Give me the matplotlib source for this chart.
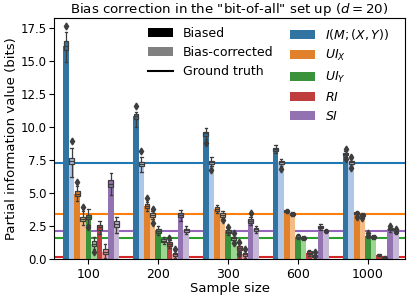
import matplotlib
matplotlib.use("Agg")
import matplotlib.pyplot as plt
from matplotlib.patches import Patch
from matplotlib.lines import Line2D
import numpy as np

sample_sizes = ["100", "200", "300", "600", "1000"]
labels = [r"$I(M;(X,Y))$", r"$UI_X$", r"$UI_Y$", r"$RI$", r"$SI$"]
keys = ["I", "UIX", "UIY", "RI", "SI"]

# ground truth values (bits)
truth = [7.23, 3.42, 1.58, 0.13, 2.13]

# per sample size: [whisker low, q1, median, q3, whisker high]
I_bias = [[14.9, 15.8, 16.1, 16.5, 17.2], [10.0, 10.6, 10.8, 11.0, 11.1],
          [9.1, 9.3, 9.5, 9.6, 9.9], [8.0, 8.2, 8.3, 8.4, 8.6],
          [7.7, 7.85, 7.95, 8.05, 8.15]]
I_corr = [[6.2, 7.15, 7.4, 7.65, 8.4], [6.6, 7.05, 7.2, 7.35, 7.7],
          [7.0, 7.15, 7.3, 7.45, 7.7], [7.0, 7.2, 7.3, 7.4, 7.6],
          [7.05, 7.2, 7.3, 7.4, 7.55]]
UIX_bias = [[4.4, 4.75, 4.95, 5.15, 5.5], [3.6, 3.85, 4.0, 4.15, 4.3],
            [3.5, 3.65, 3.76, 3.9, 4.05], [3.45, 3.55, 3.63, 3.7, 3.8],
            [3.3, 3.38, 3.45, 3.52, 3.6]]
UIX_corr = [[2.6, 2.85, 3.0, 3.2, 3.6], [3.0, 3.15, 3.3, 3.45, 3.6],
            [3.05, 3.2, 3.33, 3.45, 3.6], [3.28, 3.36, 3.43, 3.5, 3.58],
            [3.15, 3.24, 3.3, 3.38, 3.45]]
UIY_bias = [[2.6, 3.0, 3.2, 3.35, 3.75], [1.8, 1.95, 2.1, 2.25, 2.5],
            [1.8, 1.95, 2.05, 2.2, 2.35], [1.5, 1.62, 1.7, 1.8, 1.9],
            [1.55, 1.66, 1.74, 1.82, 1.9]]
UIY_corr = [[0.75, 1.0, 1.16, 1.35, 1.7], [1.1, 1.25, 1.36, 1.5, 1.65],
            [1.3, 1.45, 1.6, 1.7, 1.85], [1.4, 1.5, 1.57, 1.65, 1.75],
            [1.5, 1.6, 1.67, 1.75, 1.85]]
RI_bias = [[1.9, 2.2, 2.4, 2.6, 2.9], [0.8, 0.95, 1.1, 1.25, 1.4],
           [0.5, 0.7, 0.85, 1.0, 1.2], [0.25, 0.38, 0.48, 0.58, 0.7],
           [0.2, 0.25, 0.3, 0.35, 0.4]]
RI_corr = [[0.1, 0.4, 0.55, 0.75, 1.1], [0.05, 0.2, 0.35, 0.45, 0.6],
           [0.05, 0.2, 0.35, 0.45, 0.6], [0.05, 0.15, 0.23, 0.3, 0.4],
           [0.03, 0.08, 0.12, 0.16, 0.2]]
SI_bias = [[4.85, 5.45, 5.7, 5.95, 6.5], [2.9, 3.15, 3.3, 3.45, 3.7],
           [2.55, 2.75, 2.9, 3.05, 3.2], [2.2, 2.33, 2.42, 2.5, 2.65],
           [2.05, 2.17, 2.25, 2.32, 2.4]]
SI_corr = [[2.0, 2.45, 2.65, 2.85, 3.2], [1.9, 2.05, 2.17, 2.3, 2.5],
           [2.0, 2.15, 2.25, 2.35, 2.5], [1.95, 2.05, 2.12, 2.2, 2.3],
           [1.9, 2.0, 2.07, 2.15, 2.25]]

# outliers per sample size
I_bias_fl = [[17.6], [11.6], [8.8], [], [8.3, 7.6]]
I_corr_fl = [[8.9], [8.2], [6.7], [6.8], [7.7, 6.9]]
UIX_bias_fl = [[5.8], [4.65], [], [], [3.2]]
UIX_corr_fl = [[3.9], [3.75, 2.75], [2.95], [], [3.1]]
UIY_bias_fl = [[2.4], [], [2.45], [], [2.0]]
UIY_corr_fl = [[0.5], [], [1.2, 1.95], [], []]
RI_bias_fl = [[], [1.6], [1.3, 0.4], [], []]
RI_corr_fl = [[], [0.75], [0.75], [0.55], []]
SI_bias_fl = [[], [], [3.5], [], [2.5]]
SI_corr_fl = [[], [], [], [], [2.3]]

dark = ["#3274a1", "#e1812c", "#3a923a", "#c03d3e", "#9372b2"]
light = ["#aec7e8", "#f5bb85", "#9bd58f", "#f09c9c", "#c6b7d6"]
lines = ["#1f77b4", "#ff7f0e", "#2ca02c", "#d62728", "#9467bd"]

series = [(I_bias, I_bias_fl, I_corr, I_corr_fl),
          (UIX_bias, UIX_bias_fl, UIX_corr, UIX_corr_fl),
          (UIY_bias, UIY_bias_fl, UIY_corr, UIY_corr_fl),
          (RI_bias, RI_bias_fl, RI_corr, RI_corr_fl),
          (SI_bias, SI_bias_fl, SI_corr, SI_corr_fl)]

fig = plt.figure(figsize=(4.07, 2.97), dpi=100)
ax = fig.add_axes([0.133, 0.128, 0.862, 0.81])

bw = 0.08
x = np.arange(len(sample_sizes))
gray = "#3d3d3d"

for k, (b, bfl, c, cfl) in enumerate(series):
    ax.axhline(truth[k], color=lines[k], lw=1.5, zorder=1)
    for j, (data, fl, col) in enumerate([(b, bfl, dark[k]), (c, cfl, light[k])]):
        pos = x - 0.36 + bw * (2 * k + j)
        meds = [d[2] for d in data]
        ax.bar(pos, meds, width=bw, color=col, zorder=2, align="edge")
        stats = []
        for d, f in zip(data, fl):
            stats.append(dict(whislo=d[0], q1=d[1], med=d[2], q3=d[3],
                              whishi=d[4], fliers=f))
        ax.bxp(stats, positions=pos + bw / 2, widths=bw * 0.85,
               patch_artist=True, manage_ticks=False, zorder=3,
               boxprops=dict(facecolor=col, edgecolor=gray, lw=0.9),
               medianprops=dict(color=gray, lw=0.9),
               whiskerprops=dict(color=gray, lw=0.9),
               capprops=dict(color=gray, lw=0.9),
               flierprops=dict(marker="d", markersize=3.5, markerfacecolor=gray,
                               markeredgecolor=gray))

ax.set_xticks(x)
ax.set_xticklabels(sample_sizes, fontsize=9)
ax.set_xlim(-0.49, 4.53)
ax.set_ylim(0, 18.2)
ax.set_yticks(np.arange(0, 17.6, 2.5))
ax.tick_params(axis="y", labelsize=8.5, pad=2)
ax.tick_params(axis="x", pad=3)
ax.set_xlabel("Sample size", fontsize=9.5, labelpad=1)
ax.set_ylabel("Partial information value (bits)", fontsize=9.5, labelpad=2)
ax.set_title('Bias correction in the "bit-of-all" set up ($d=20$)', fontsize=9.6, pad=1)

h1 = [Patch(facecolor="black"), Patch(facecolor="#808080"),
      Line2D([], [], color="black", lw=1.5)]
leg1 = fig.legend(h1, ["Biased", "Bias-corrected", "Ground truth"], loc="upper left",
                  bbox_to_anchor=(0.351, 0.926), frameon=False, fontsize=9,
                  borderaxespad=0)
h2 = [Patch(facecolor=c) for c in dark]
fig.legend(h2, labels, loc="upper left", bbox_to_anchor=(0.700, 0.926),
           frameon=False, fontsize=9, borderaxespad=0)

fig.savefig("out.png", dpi=100)
